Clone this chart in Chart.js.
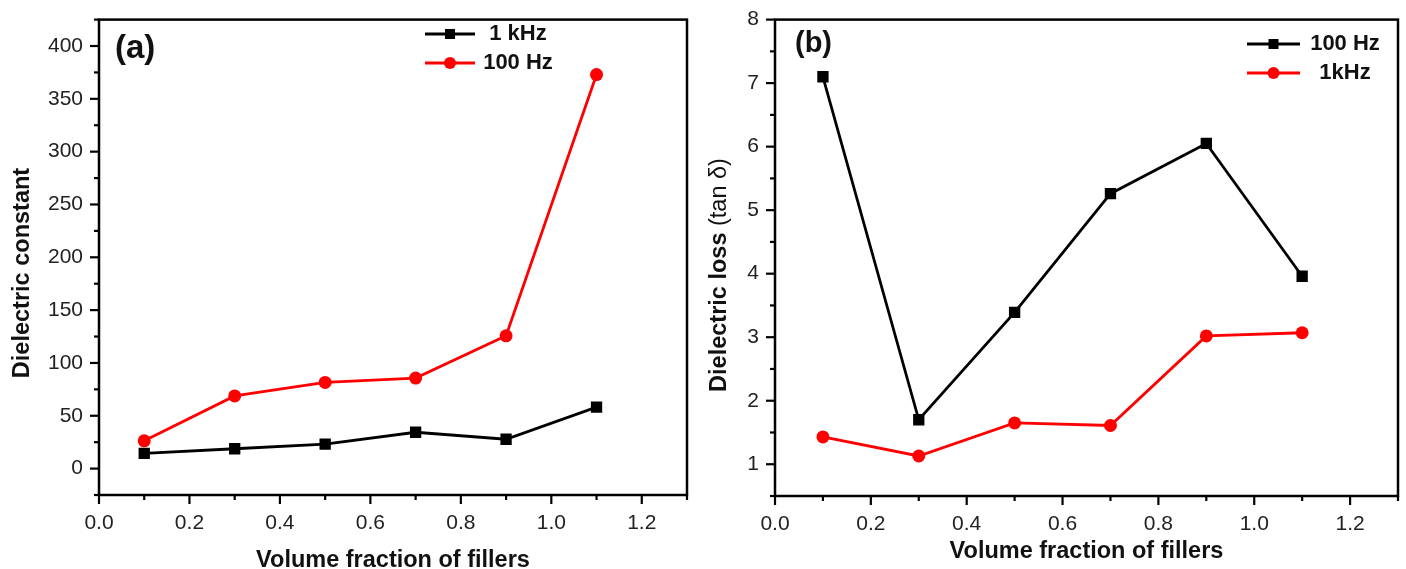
<!DOCTYPE html>
<html>
<head>
<meta charset="utf-8">
<script src="https://cdn.jsdelivr.net/npm/chart.js@4.4.0/dist/chart.umd.min.js"></script>
<style>
    html, body { margin: 0; padding: 0; background: #fff; }
    #wrap { position: relative; width: 1406px; height: 569px; }
    canvas { position: absolute; top: 0; }
</style>
</head>
<body>
<div id="wrap">
    <canvas id="chartA" width="700" height="569" style="left:0"></canvas>
    <canvas id="chartB" width="706" height="569" style="left:700px"></canvas>
</div>
<script>
// values
var fractions = [0.1, 0.3, 0.5, 0.7, 0.9, 1.1];
var constant1k = [14.4, 18.8, 23.1, 34.4, 27.8, 58.2];
var constant100 = [26.3, 68.8, 81.6, 85.7, 125.7, 373];
var loss100 = [7.10, 1.70, 3.39, 5.26, 6.05, 3.96];
var loss1k = [1.43, 1.13, 1.65, 1.61, 3.02, 3.07];

var xTickLabels = ['0.0', '0.2', '0.4', '0.6', '0.8', '1.0', '1.2'];

var FAMILY = '"Liberation Sans", Arial, sans-serif';
var tickFont = { family: FAMILY, size: 21 };
var titleFont = { family: FAMILY, size: 23.5, weight: 'bold', lineHeight: 0.75 };

function pts(xs, ys) {
    return xs.map(function (x, i) { return { x: x, y: ys[i] }; });
}

function series(label, data, color, style) {
    var r = style === 'rect' ? 8 : 6.5;
    return {
        label: label,
        data: data,
        borderColor: color,
        backgroundColor: color,
        borderWidth: 2.8,
        pointStyle: style,
        pointRadius: r,
        pointHoverRadius: r,
        pointBorderWidth: 0,
        tension: 0
    };
}

// frame, minor/major ticks, y title, panel tag and legend
function decor(opts) {
    return {
        id: 'decor',
        afterDraw: function (chart) {
            var ctx = chart.ctx, a = chart.chartArea;
            ctx.save();
            ctx.strokeStyle = '#000';
            ctx.lineWidth = 2.5;
            ctx.strokeRect(a.left, a.top, a.right - a.left, a.bottom - a.top);

            ctx.lineWidth = 2.2;
            ['x', 'y'].forEach(function (id) {
                var s = chart.scales[id];
                s.ticks.forEach(function (t) {
                    var lab = s.options.ticks.callback.call(s, t.value);
                    var len = lab === '' ? 5 : 9;
                    var p = s.getPixelForValue(t.value);
                    ctx.beginPath();
                    if (id === 'x') { ctx.moveTo(p, a.bottom); ctx.lineTo(p, a.bottom + len); }
                    else { ctx.moveTo(a.left, p); ctx.lineTo(a.left - len, p); }
                    ctx.stroke();
                });
            });

            // rotated y title, pieces may differ in weight
            ctx.save();
            ctx.translate(opts.yTitlePos[0], opts.yTitlePos[1]);
            ctx.rotate(-Math.PI / 2);
            ctx.fillStyle = '#111';
            ctx.textBaseline = 'middle';
            ctx.textAlign = 'left';
            var total = 0;
            opts.yTitle.forEach(function (p) {
                ctx.font = p[1] + ' 23.5px ' + FAMILY;
                total += ctx.measureText(p[0]).width;
            });
            var x0 = -total / 2;
            opts.yTitle.forEach(function (p) {
                ctx.font = p[1] + ' 23.5px ' + FAMILY;
                ctx.fillText(p[0], x0, 0);
                x0 += ctx.measureText(p[0]).width;
            });
            ctx.restore();

            ctx.fillStyle = '#111';
            ctx.font = opts.tagFont;
            ctx.textBaseline = 'middle';
            ctx.textAlign = 'left';
            ctx.fillText(opts.tag, opts.tagPos[0], opts.tagPos[1]);

            ctx.font = 'bold 22px ' + FAMILY;
            chart.data.datasets.forEach(function (ds, i) {
                var y = opts.legendY[i];
                var lx = opts.legendX;
                ctx.strokeStyle = ds.borderColor;
                ctx.fillStyle = ds.borderColor;
                ctx.lineWidth = 2.8;
                ctx.beginPath();
                ctx.moveTo(lx[0], y);
                ctx.lineTo(lx[1], y);
                ctx.stroke();
                var mx = (lx[0] + lx[1]) / 2;
                ctx.beginPath();
                if (ds.pointStyle === 'rect') ctx.rect(mx - 5, y - 5, 10, 10);
                else ctx.arc(mx, y, 6, 0, Math.PI * 2);
                ctx.fill();
                ctx.fillStyle = '#111';
                ctx.textAlign = 'center';
                ctx.fillText(ds.label, lx[2], y);
            });
            ctx.restore();
        }
    };
}

function xScale(height, titlePad) {
    return {
        type: 'linear', min: 0, max: 1.3,
        afterFit: function (s) { s.height = height; },
        afterBuildTicks: function (s) {
            s.ticks = [];
            for (var i = 0; i <= 13; i++) s.ticks.push({ value: i / 10 });
        },
        grid: { display: false, drawTicks: true, tickLength: 9 },
        border: { display: false },
        ticks: {
            padding: 7, color: '#222', font: tickFont, maxRotation: 0, autoSkip: false,
            callback: function (v) {
                var k = Math.round(v * 10);
                return k % 2 === 0 ? xTickLabels[k / 2] : '';
            }
        },
        title: { display: true, text: 'Volume fraction of fillers', color: '#111', font: titleFont, padding: { top: 0, bottom: titlePad } }
    };
}

function yScale(width, min, max, step, major) {
    return {
        type: 'linear', min: min, max: max,
        afterFit: function (s) { s.width = width; },
        grid: { display: false, drawTicks: true, tickLength: 9 },
        border: { display: false },
        ticks: {
            stepSize: step, padding: 7, color: '#222', font: tickFont, autoSkip: false,
            callback: function (v) {
                var r = Math.round(v / major * 1000) / 1000;
                return (v >= 0 && r === Math.round(r)) ? String(Math.round(v)) : '';
            }
        },
        title: { display: false }
    };
}

new Chart(document.getElementById('chartA'), {
    type: 'line',
    data: {
        datasets: [
            series('1 kHz', pts(fractions, constant1k), '#000000', 'rect'),
            series('100 Hz', pts(fractions, constant100), '#ff0000', 'circle')
        ]
    },
    options: {
        responsive: false,
        animation: false,
        layout: { padding: { top: 16, right: 13, left: 0, bottom: 0 } },
        plugins: { legend: { display: false }, tooltip: { enabled: false } },
        scales: {
            x: xScale(74, 0),
            y: yScale(99, -25, 425, 25, 50)
        }
    },
    plugins: [decor({
        tag: '(a)', tagFont: 'bold 33px ' + FAMILY, tagPos: [115, 49],
        legendX: [425, 475, 518], legendY: [34, 63],
        yTitle: [['Dielectric constant', 'bold']], yTitlePos: [23, 273]
    })]
});

new Chart(document.getElementById('chartB'), {
    type: 'line',
    data: {
        datasets: [
            series('100 Hz', pts(fractions, loss100), '#000000', 'rect'),
            series('1kHz', pts(fractions, loss1k), '#ff0000', 'circle')
        ]
    },
    options: {
        responsive: false,
        animation: false,
        layout: { padding: { top: 19, right: 7, left: 0, bottom: 0 } },
        plugins: { legend: { display: false }, tooltip: { enabled: false } },
        scales: {
            x: xScale(73, 9),
            y: yScale(75, 0.5, 8, 0.5, 1)
        }
    },
    plugins: [decor({
        tag: '(b)', tagFont: 'bold 29px ' + FAMILY, tagPos: [95, 44],
        legendX: [547, 600, 645], legendY: [44, 73],
        yTitle: [['Dielectric loss ', 'bold'], ['(tan \u03b4)', 'normal']], yTitlePos: [20, 275]
    })]
});
</script>
</body>
</html>
